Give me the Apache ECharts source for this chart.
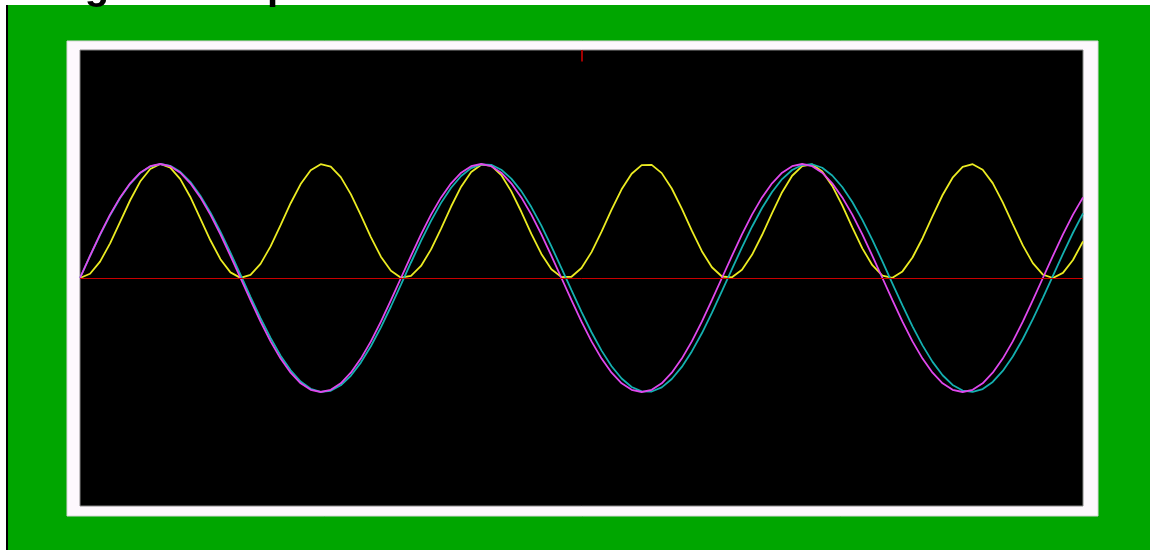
<!DOCTYPE html>
<html>
<head>
<meta charset="utf-8">
<script src="https://cdn.jsdelivr.net/npm/echarts@6/dist/echarts.min.js"></script>
<style>
  html, body { margin: 0; padding: 0; background: #fff; }
  #chart { width: 1150px; height: 550px; }
</style>
</head>
<body>
<div id="chart"></div>
<script>
// sample positions along the trace
const xs = [0, 10, 20, 30, 40, 50, 60, 70, 80, 90,
  100, 110, 120, 130, 140, 150, 160, 170, 180, 190,
  200, 210, 220, 230, 240, 250, 260, 270, 280, 290,
  300, 310, 320, 330, 340, 350, 360, 370, 380, 390,
  400, 410, 420, 430, 440, 450, 460, 470, 480, 490,
  500, 510, 520, 530, 540, 550, 560, 570, 580, 590,
  600, 610, 620, 630, 640, 650, 660, 670, 680, 690,
  700, 710, 720, 730, 740, 750, 760, 770, 780, 790,
  800, 810, 820, 830, 840, 850, 860, 870, 880, 890,
  900, 910, 920, 930, 940, 950, 960, 970, 980, 990, 1000];

// magenta trace
const magenta = [0, 0.195, 0.383, 0.556, 0.707, 0.831, 0.924, 0.981, 1, 0.981,
  0.924, 0.831, 0.707, 0.556, 0.383, 0.195, 0, -0.195, -0.383, -0.556,
  -0.707, -0.831, -0.924, -0.981, -1, -0.981, -0.924, -0.831, -0.707, -0.556,
  -0.383, -0.195, 0, 0.195, 0.383, 0.556, 0.707, 0.831, 0.924, 0.981,
  1, 0.981, 0.924, 0.831, 0.707, 0.556, 0.383, 0.195, 0, -0.195,
  -0.383, -0.556, -0.707, -0.831, -0.924, -0.981, -1, -0.981, -0.924, -0.831,
  -0.707, -0.556, -0.383, -0.195, 0, 0.195, 0.383, 0.556, 0.707, 0.831,
  0.924, 0.981, 1, 0.981, 0.924, 0.831, 0.707, 0.556, 0.383, 0.195,
  0, -0.195, -0.383, -0.556, -0.707, -0.831, -0.924, -0.981, -1, -0.981,
  -0.924, -0.831, -0.707, -0.556, -0.383, -0.195, 0, 0.195, 0.383, 0.556, 0.707];

// cyan trace (slightly slower)
const cyan = [0, 0.193, 0.379, 0.551, 0.702, 0.826, 0.92, 0.978, 1, 0.984,
  0.931, 0.843, 0.722, 0.575, 0.406, 0.222, 0.029, -0.165, -0.352, -0.526,
  -0.681, -0.81, -0.908, -0.972, -0.999, -0.989, -0.941, -0.858, -0.742, -0.599,
  -0.433, -0.25, -0.058, 0.136, 0.325, 0.501, 0.659, 0.792, 0.895, 0.964,
  0.997, 0.993, 0.95, 0.872, 0.762, 0.622, 0.459, 0.278, 0.087, -0.107,
  -0.297, -0.476, -0.637, -0.774, -0.882, -0.956, -0.995, -0.996, -0.959, -0.886,
  -0.78, -0.644, -0.485, -0.306, -0.116, 0.078, 0.269, 0.45, 0.614, 0.755,
  0.868, 0.947, 0.991, 0.998, 0.967, 0.899, 0.798, 0.667, 0.51, 0.334,
  0.145, -0.049, -0.241, -0.424, -0.591, -0.736, -0.853, -0.938, -0.987, -0.999,
  -0.974, -0.912, -0.815, -0.688, -0.535, -0.361, -0.174, 0.019, 0.212, 0.397, 0.567];

// yellow trace (power)
const yellow = [0, 0.037, 0.144, 0.304, 0.493, 0.682, 0.846, 0.956, 1, 0.968,
  0.867, 0.711, 0.521, 0.331, 0.165, 0.049, 0.001, 0.027, 0.124, 0.277,
  0.464, 0.656, 0.824, 0.945, 0.998, 0.978, 0.885, 0.736, 0.551, 0.359,
  0.187, 0.063, 0.003, 0.018, 0.106, 0.251, 0.434, 0.627, 0.801, 0.929,
  0.994, 0.986, 0.903, 0.76, 0.581, 0.387, 0.211, 0.077, 0.008, 0.011,
  0.088, 0.227, 0.406, 0.599, 0.778, 0.914, 0.99, 0.992, 0.92, 0.785,
  0.608, 0.415, 0.235, 0.094, 0.013, 0.006, 0.072, 0.203, 0.377, 0.57,
  0.753, 0.897, 0.982, 0.996, 0.935, 0.808, 0.637, 0.445, 0.26, 0.112,
  0.021, 0.002, 0.058, 0.18, 0.349, 0.542, 0.728, 0.88, 0.974, 0.998,
  0.949, 0.832, 0.664, 0.473, 0.286, 0.13, 0.03, 0, 0.045, 0.158, 0.321];

const pairs = (vals) => vals.map((v, i) => [xs[i], v]);

const chart = echarts.init(document.getElementById('chart'));

chart.setOption({
  backgroundColor: '#fff',
  animation: false,
  title: {
    text: 'Signal Comparison',
    left: 42,
    top: -37,
    textStyle: { fontFamily: 'Liberation Sans', fontWeight: 'bold', fontSize: 40, color: '#000' }
  },
  graphic: {
    elements: [
      { type: 'rect', z: -100, shape: { x: 6, y: 5, width: 2, height: 545 }, style: { fill: '#000' } },
      { type: 'rect', z: -100, shape: { x: 8, y: 5, width: 1142, height: 545 }, style: { fill: '#00a600' } },
      { type: 'rect', z: -90, shape: { x: 67, y: 41, width: 1031, height: 475 }, style: { fill: '#fdf8fd', stroke: '#d8d8d8', lineWidth: 1 } }
    ]
  },
  grid: {
    left: 80, right: 67, top: 50, bottom: 44,
    show: true,
    backgroundColor: '#000',
    borderColor: '#888',
    borderWidth: 1
  },
  xAxis: {
    type: 'value',
    min: 0,
    max: 1000,
    axisLine: { show: false },
    axisTick: { show: false },
    axisLabel: { show: false },
    splitLine: { show: false }
  },
  yAxis: {
    type: 'value',
    min: -2,
    max: 2,
    axisLine: { show: false },
    axisTick: { show: false },
    axisLabel: { show: false },
    splitLine: { show: false }
  },
  series: [
    {
      name: 'yellow',
      type: 'line',
      data: pairs(yellow),
      symbol: 'none',
      lineStyle: { color: '#ecec22', width: 1.8 },
      markLine: {
        silent: true,
        symbol: 'none',
        label: { show: false },
        lineStyle: { color: '#c80000', width: 1, type: 'solid' },
        data: [
          { yAxis: 0 },
          [{ coord: [500, 2], lineStyle: { color: '#a00000', width: 2 } }, { coord: [500, 1.9] }]
        ]
      }
    },
    {
      name: 'cyan',
      type: 'line',
      data: pairs(cyan),
      symbol: 'none',
      lineStyle: { color: '#14b0b0', width: 1.8 }
    },
    {
      name: 'magenta',
      type: 'line',
      data: pairs(magenta),
      symbol: 'none',
      lineStyle: { color: '#e048ee', width: 1.8 }
    }
  ]
});
</script>
</body>
</html>
